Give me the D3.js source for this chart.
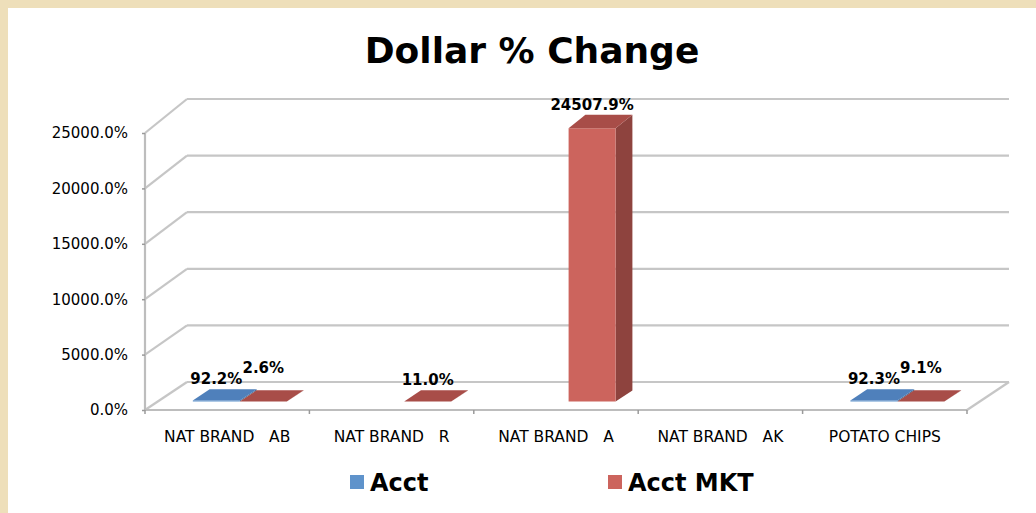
<!DOCTYPE html>
<html>
<head>
<meta charset="utf-8">
<script src="https://cdn.jsdelivr.net/npm/d3@7"></script>
<style>
  body { margin: 0; background: #fff; }
  text { font-family: "DejaVu Sans", Verdana, sans-serif; }
</style>
</head>
<body>
<div id="chart-area"></div>
<script>
const categories = ['NAT BRAND   AB', 'NAT BRAND   R', 'NAT BRAND   A', 'NAT BRAND   AK', 'POTATO CHIPS'];
const seriesNames = ['Acct', 'Acct MKT'];
const acct = [92.2, null, null, null, 92.3];
const acctMkt = [2.6, 11.0, 24507.9, null, 9.1];
const yTicks = [0, 5000, 10000, 15000, 20000, 25000];

const W = 1036, H = 513;
const depthX = 42;            // back wall offset
const t0 = 0.3, t1 = 0.7;     // bar depth inside the box

const colors = {
    'Acct': { front: '#5f93cb', side: '#3f6690', top: '#4f80bb' },
    'Acct MKT': { front: '#cc645d', side: '#8e433e', top: '#a84d48' }
};

let svg = d3.select('#chart-area').append('svg').attr('width', W).attr('height', H);

svg.append('rect').attr('width', W).attr('height', H).attr('fill', '#eedfba');
svg.append('rect').attr('x', 8).attr('y', 8).attr('width', W - 8).attr('height', H - 8).attr('fill', '#fff');

let x = d3.scaleBand().domain(categories).range([145, 967]);
let xs = d3.scaleBand().domain(seriesNames)
    .range([x.bandwidth() / 2 - 47, x.bandwidth() / 2 + 47]);
let yFront = d3.scaleLinear().domain([0, 25000]).range([410, 133]);
let yBack = d3.scaleLinear().domain([0, 25000]).range([382, 99]);

const proj = (xf, v, t) => [xf + t * depthX, yFront(v) + t * (yBack(v) - yFront(v))];

// walls and gridlines
let grid = svg.append('g');
yTicks.forEach((v) => {
    grid.append('line')
        .attr('x1', 145).attr('y1', yFront(v))
        .attr('x2', 145 + depthX).attr('y2', yBack(v))
        .attr('stroke', '#c6c6c6').attr('stroke-width', 2.2);
    grid.append('line')
        .attr('x1', 145 + depthX).attr('y1', yBack(v))
        .attr('x2', 967 + depthX).attr('y2', yBack(v))
        .attr('stroke', '#c6c6c6').attr('stroke-width', 2.2);
});
// floor
grid.append('line')
    .attr('x1', 967).attr('y1', yFront(0))
    .attr('x2', 967 + depthX).attr('y2', yBack(0))
    .attr('stroke', '#c6c6c6').attr('stroke-width', 2.2);
grid.append('line')
    .attr('x1', 145).attr('y1', yFront(0))
    .attr('x2', 967).attr('y2', yFront(0))
    .attr('stroke', '#bdbdbd').attr('stroke-width', 2.2);
grid.append('line')
    .attr('x1', 145).attr('y1', yFront(0))
    .attr('x2', 145).attr('y2', yFront(25000))
    .attr('stroke', '#bdbdbd').attr('stroke-width', 2.2);

// y axis
let yAxis = svg.append('g').attr('transform', 'translate(145,0)')
    .call(d3.axisLeft(yFront).tickValues(yTicks).tickSize(3).tickPadding(14)
        .tickFormat((d) => d.toFixed(1) + '%'));
yAxis.select('.domain').remove();
yAxis.selectAll('line').attr('stroke', '#9a9a9a').attr('stroke-width', 1.5);
yAxis.selectAll('text').attr('font-size', 15).attr('fill', '#000')
    .attr('font-family', '"DejaVu Sans", Verdana, sans-serif');

// x axis labels at centres, ticks at boundaries
let xAxis = svg.append('g').attr('transform', 'translate(0,410)')
    .call(d3.axisBottom(x).tickSize(0).tickPadding(21));
xAxis.select('.domain').remove();
xAxis.selectAll('text').attr('font-size', 15.5).attr('fill', '#000')
    .attr('font-family', '"DejaVu Sans", Verdana, sans-serif')
    .style('white-space', 'pre').attr('xml:space', 'preserve');
let bounds = categories.map((c) => x(c)).concat([x.range()[1]]);
svg.append('g').selectAll('line').data(bounds).enter().append('line')
    .attr('x1', (d) => d).attr('x2', (d) => d)
    .attr('y1', 410).attr('y2', 414)
    .attr('stroke', '#9a9a9a').attr('stroke-width', 1.5);

// bars
let points = [];
categories.forEach((c, i) => {
    [acct[i], acctMkt[i]].forEach((v, j) => {
        if (v !== null) points.push({ cat: c, series: seriesNames[j], value: v });
    });
});

let bars = svg.append('g');
points.forEach((d) => {
    let xl = x(d.cat) + xs(d.series);
    let xr = xl + xs.bandwidth();
    let col = colors[d.series];
    let fbl = proj(xl, 0, t0), fbr = proj(xr, 0, t0);
    let ftl = proj(xl, d.value, t0), ftr = proj(xr, d.value, t0);
    let btl = proj(xl, d.value, t1), btr = proj(xr, d.value, t1);
    let bbr = proj(xr, 0, t1);
    let line = (pts) => 'M' + pts.map((p) => p.join(',')).join('L') + 'Z';
    bars.append('path').attr('d', line([ftr, btr, bbr, fbr])).attr('fill', col.side);
    bars.append('path').attr('d', line([fbl, fbr, ftr, ftl])).attr('fill', col.front);
    bars.append('path').attr('d', line([ftl, ftr, btr, btl])).attr('fill', col.top);
    d.lx = (ftl[0] + ftr[0]) / 2;
    d.ly = btl[1] - 5;
});

// value labels, the later one is lifted when two collide
let labels = svg.append('g').selectAll('text').data(points).enter().append('text')
    .attr('x', (d) => d.lx)
    .attr('y', (d) => d.ly)
    .attr('text-anchor', 'middle')
    .attr('font-size', 15).attr('font-weight', 'bold')
    .text((d) => d.value.toFixed(1) + '%');

let boxes = [];
labels.each(function(d, i) {
    let b = this.getBBox();
    if (i === 0) { boxes.push(b); return; }
    let prev = points[i - 1], pb = boxes[i - 1];
    if (prev.cat === d.cat && b.x < pb.x + pb.width + 3 && Math.abs(prev.ly - d.ly) < b.height) {
        d.ly = prev.ly - 11;
        d3.select(this).attr('y', d.ly);
        b = this.getBBox();
    }
    boxes.push(b);
});

// title
svg.append('text').attr('x', 532).attr('y', 63)
    .attr('text-anchor', 'middle')
    .attr('font-size', 36).attr('font-weight', 'bold')
    .text('Dollar % Change');

// legend
let legendX = [350, 608];
let legend = svg.append('g').selectAll('g').data(seriesNames).enter().append('g')
    .attr('transform', (d, i) => 'translate(' + legendX[i] + ',475)');
legend.append('rect').attr('width', 14).attr('height', 14)
    .attr('fill', (d) => colors[d].front);
legend.append('text').attr('x', 20).attr('y', 16)
    .attr('font-size', 24).attr('font-weight', 'bold')
    .text((d) => d);
</script>
</body>
</html>
